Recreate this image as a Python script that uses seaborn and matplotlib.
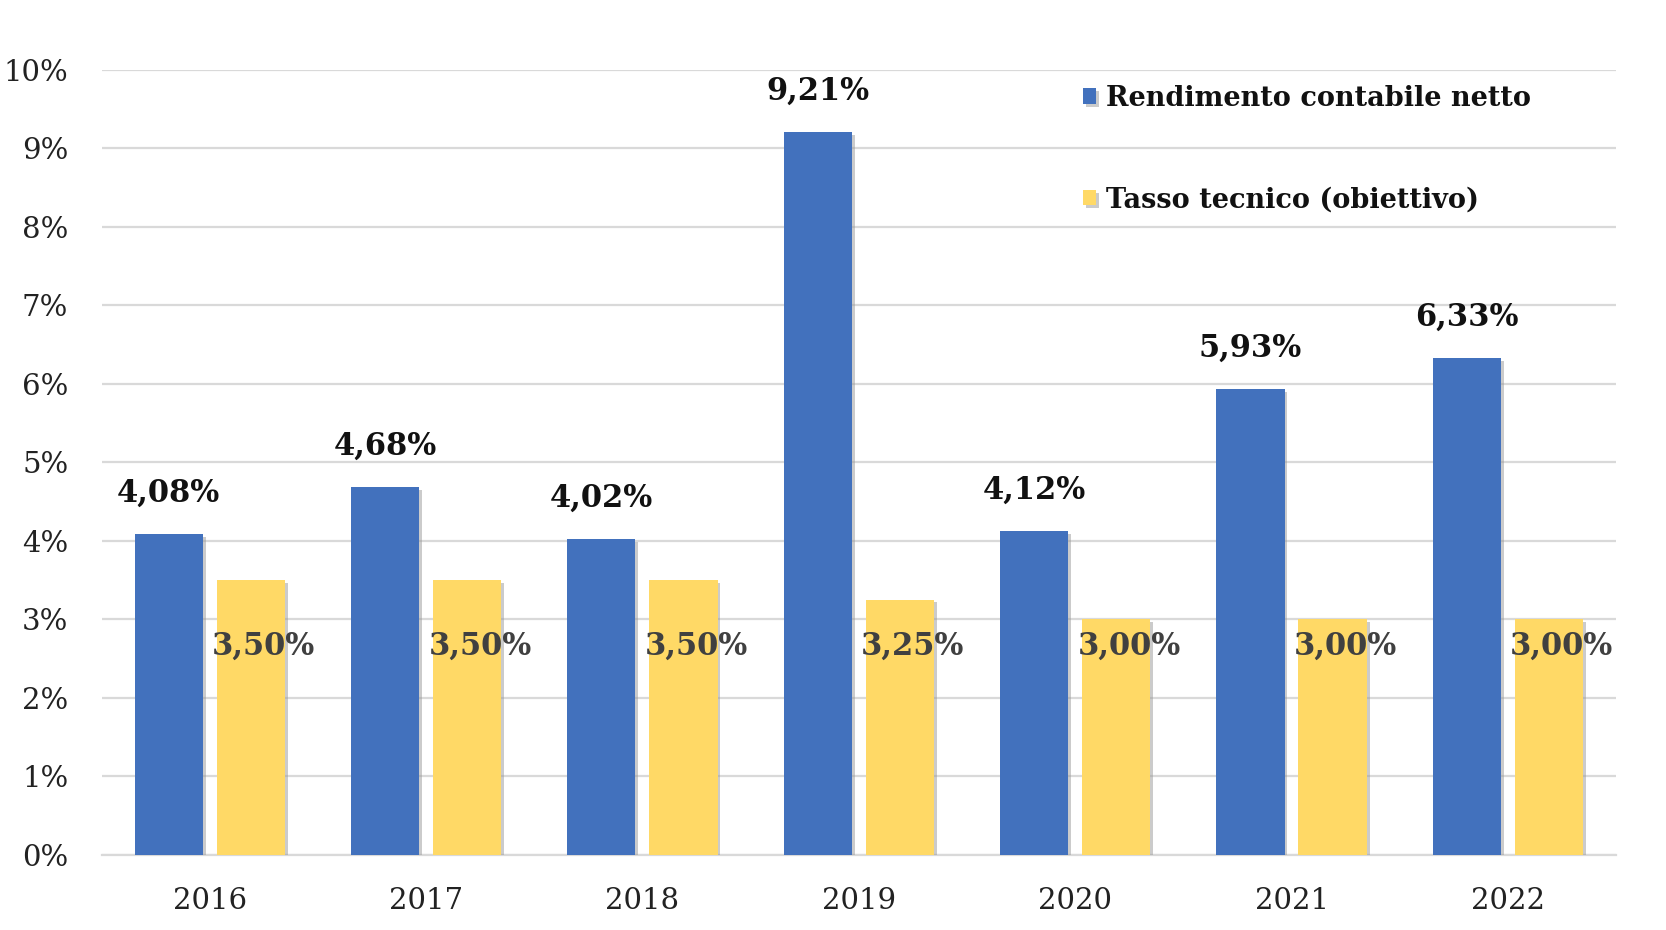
import matplotlib
matplotlib.use("Agg")
import matplotlib.pyplot as plt
import matplotlib.patheffects as pe
import seaborn as sns
import pandas as pd

years = ["2016", "2017", "2018", "2019", "2020", "2021", "2022"]
rendimento = [4.08, 4.68, 4.02, 9.21, 4.12, 5.93, 6.33]
tasso = [3.50, 3.50, 3.50, 3.25, 3.00, 3.00, 3.00]
series_names = ["Rendimento contabile netto", "Tasso tecnico (obiettivo)"]
y_ticks = [0, 1, 2, 3, 4, 5, 6, 7, 8, 9, 10]

df = pd.DataFrame({
    "Anno": years * 2,
    "Valore": rendimento + tasso,
    "Serie": [series_names[0]] * len(years) + [series_names[1]] * len(years),
})

sns.set_theme(style="white")
plt.rcParams["font.family"] = ["DejaVu Serif"]

fig = plt.figure(figsize=(16.66, 9.30), dpi=100)
ax = fig.add_axes([0.061, 0.081, 0.909, 0.844])

palette = {series_names[0]: "#4271BD", series_names[1]: "#FFD966"}
sns.barplot(data=df, x="Anno", y="Valore", hue="Serie", palette=palette,
            width=0.76, gap=0.17, ax=ax, saturation=1, legend=True, zorder=3)

for p in ax.patches:
    p.set_path_effects([pe.SimplePatchShadow(offset=(2, -2), shadow_rgbFace="#999999", alpha=0.5), pe.Normal()])
    p.set_edgecolor("none")

ax.set_ylim(0, 10)
ax.set_xlim(-0.5, len(years) - 0.5)
ax.set_yticks(y_ticks)
ax.set_yticklabels([f"{t}%" for t in y_ticks])
ax.yaxis.grid(True, color="#D9D9D9", lw=1.6, zorder=0)
ax.set_axisbelow(True)
for s in ["top", "right", "left"]:
    ax.spines[s].set_visible(False)
ax.spines["bottom"].set_color("#D9D9D9")
ax.spines["bottom"].set_linewidth(1.6)
ax.tick_params(axis="y", length=0, pad=24, labelsize=21, labelcolor="#222222")
ax.tick_params(axis="x", length=0, pad=23, labelsize=21, labelcolor="#222222")
ax.set_xlabel("")
ax.set_ylabel("")

containers = ax.containers
blue_bars = containers[0]
yellow_bars = containers[1]
for bar, v in zip(blue_bars, rendimento):
    cx = bar.get_x() + bar.get_width() / 2
    ax.text(cx, v + 0.52, f"{v:.2f}%".replace(".", ","), ha="center", va="center",
            fontsize=22, fontweight="bold", color="#111111", zorder=5)
for bar, v in zip(yellow_bars, tasso):
    cx = bar.get_x() + bar.get_width() / 2
    ax.text(cx + 0.06, 2.66, f"{v:.2f}%".replace(".", ","), ha="center", va="center",
            fontsize=22, fontweight="bold", color="#404040", zorder=5)

handles, labels = ax.get_legend_handles_labels()
leg = ax.legend(handles, labels, loc="center left", bbox_to_anchor=(0.648, 0.899),
                frameon=False, handlelength=0.5, handleheight=0.5, handletextpad=0.35,
                labelspacing=2.75, borderpad=0, borderaxespad=0,
                prop={"family": "DejaVu Serif", "weight": "bold", "size": 19.5})
for t in leg.get_texts():
    t.set_color("#111111")

fig.savefig("out.png", dpi=100, facecolor="white")
